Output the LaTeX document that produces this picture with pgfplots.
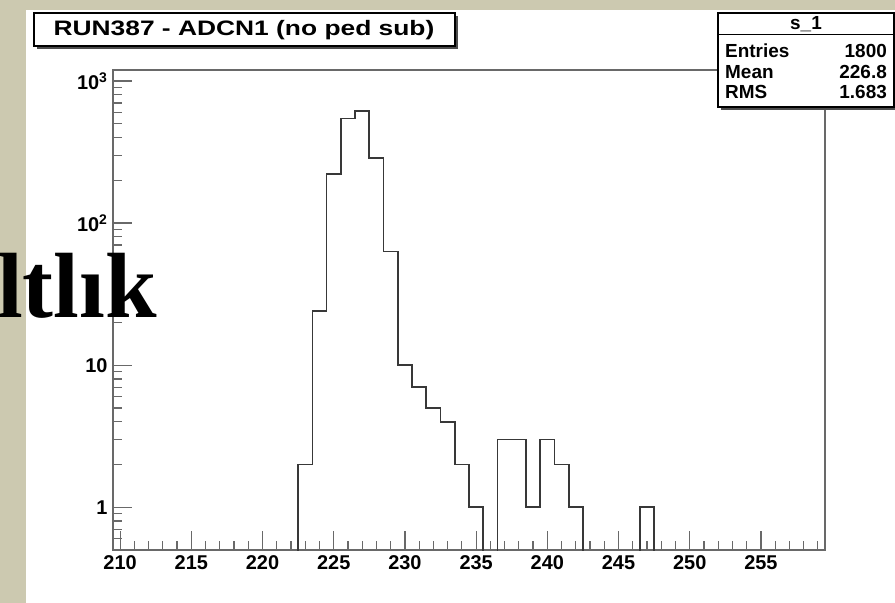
\documentclass[border=0pt]{standalone}
\usepackage{fontspec}
\setmainfont{Liberation Sans}
\newfontfamily\bigserif{Liberation Serif}
\usepackage{pgfplots}
\pgfplotsset{compat=1.18}
\definecolor{khaki}{RGB}{204,201,176}
\definecolor{frame}{RGB}{105,105,105}

\begin{document}
\begin{tikzpicture}
\path[use as bounding box] (0,0) rectangle (895bp,603bp);
\clip (0,0) rectangle (895bp,603bp);
\fill[khaki] (0,0) rectangle (895bp,603bp);
\fill[white] (26bp,0) rectangle (895bp,593bp);

\begin{axis}[
    at={(113bp,53bp)}, anchor=south west,
    width=712bp, height=480bp, scale only axis,
    ymode=log, xmin=209.5, xmax=259.5, ymin=0.5, ymax=1195,
    xtick={210,215,...,255}, minor xtick={210,...,259},
    ytick={1,10,100,1000},
    yticklabels={1,10,10\textsuperscript{2},10\textsuperscript{3}},
    minor ytick={0.6,0.7,0.8,0.9,2,3,4,5,6,7,8,9,20,30,40,50,60,70,80,90,200,300,400,500,600,700,800,900},
    xtick pos=left, ytick pos=left, tick align=inside,
    major tick length=19bp, minor tick length=9bp,
    axis line style={draw=frame, line width=1.5bp},
    every tick/.style={draw=frame, line width=1.2bp},
    ticklabel style={font=\bfseries\fontsize{20}{20}\selectfont},
    /pgf/number format/assume math mode=true,
    xticklabel style={yshift=-2bp},
    yticklabel style={xshift=-2bp},
]
  % bin left edge, entries (0.01 = empty bin, drawn under the floor)
  \addplot[const plot mark left, draw=black!78, line width=1.7bp] table {
    x y
    221.5 0.01
    222.5 2
    223.5 24
    224.5 221
    225.5 545
    226.5 615
    227.5 287
    228.5 63
    229.5 10
    230.5 7
    231.5 5
    232.5 4
    233.5 2
    234.5 1
    235.5 0.01
    236.5 3
    237.5 3
    238.5 1
    239.5 3
    240.5 2
    241.5 1
    242.5 0.01
    245.5 0.01
    246.5 1
    247.5 0.01
    248.5 0.01
  };
\end{axis}

% title box
\fill[black!70] (37bp,554bp) rectangle (458bp,587bp);
\draw[fill=white, line width=1.2bp] (34bp,557bp) rectangle (455bp,590bp);
\node[font=\bfseries\fontsize{21}{21}\selectfont, xscale=1.26] at (244bp,573bp) {RUN387 - ADCN1 (no ped sub)};

% stats box
\fill[black!70] (721bp,493bp) rectangle (898bp,587bp);
\draw[fill=white, line width=1.2bp] (718bp,496bp) rectangle (894bp,590bp);
\draw[line width=1bp] (718bp,568bp) -- (894bp,568bp);
\begin{scope}[every node/.style={font=\bfseries\fontsize{19}{19}\selectfont, inner sep=0}]
  \node at (806bp,579bp) {s\_1};
  \node[anchor=west] at (725bp,552bp) {Entries};
  \node[anchor=west] at (725bp,531bp) {Mean};
  \node[anchor=west] at (725bp,511bp) {RMS};
  \node[anchor=east] at (887bp,552bp) {1800};
  \node[anchor=east] at (887bp,531bp) {226.8};
  \node[anchor=east] at (887bp,511bp) {1.683};
\end{scope}

% slide title running over the picture
\node[anchor=base east, inner sep=0, font=\bigserif\bfseries\fontsize{93}{93}\selectfont] at (157bp,285bp) {ltlık};
\end{tikzpicture}
\end{document}
